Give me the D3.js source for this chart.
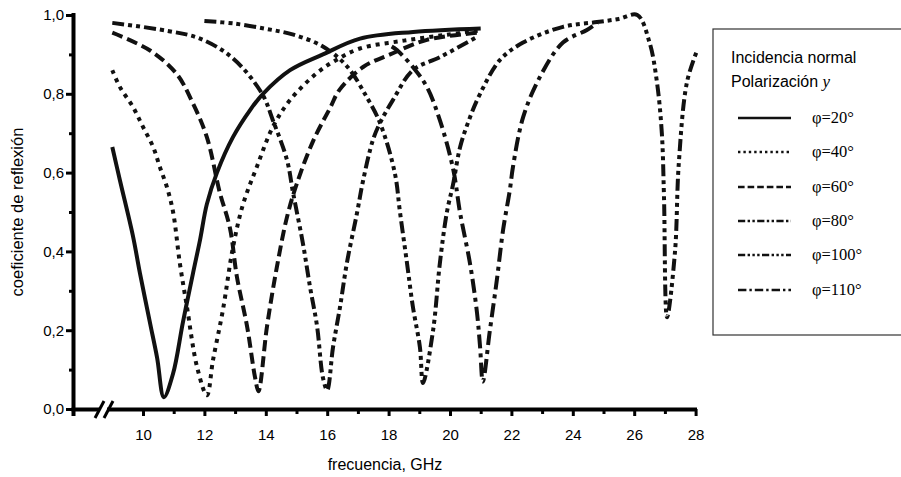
<!DOCTYPE html>
<html>
<head>
<meta charset="utf-8">
<script src="https://cdn.jsdelivr.net/npm/d3@7"></script>
<style>
  body { margin: 0; background: #fff; }
  text { font-family: "Liberation Sans", Arial, sans-serif; fill: #000; }
  .axis path { stroke: none; }
  .axis line { stroke: #000; stroke-width: 3px; }
  .axis text { fill: #000; font-size: 15px; font-family: "Liberation Sans", Arial, sans-serif; }
</style>
</head>
<body>
<script>
// Data (frequency in GHz, reflection coefficient)
var f20 = [9, 9.25, 9.67, 9.9, 10.23, 10.46, 10.68, 10.98, 11.3, 11.63, 11.86, 12.08, 12.41, 12.93, 13.5, 13.91, 14.79, 15.86, 17.07, 18.8, 21];
var r20 = [0.665, 0.58, 0.44, 0.345, 0.218, 0.13, 0.03, 0.09, 0.22, 0.345, 0.43, 0.52, 0.6, 0.69, 0.76, 0.80, 0.86, 0.9, 0.94, 0.957, 0.966];

var f40 = [9, 9.25, 9.67, 10, 10.33, 10.55, 10.78, 10.98, 11.2, 11.43, 11.76, 12.08, 12.28, 12.6, 12.93, 13.26, 13.71, 14.23, 14.79, 15.67, 16.3, 17.07, 18.5, 19.9, 20.9];
var r40 = [0.86, 0.817, 0.767, 0.716, 0.665, 0.614, 0.563, 0.5, 0.37, 0.26, 0.107, 0.035, 0.124, 0.25, 0.41, 0.52, 0.615, 0.716, 0.784, 0.853, 0.886, 0.915, 0.935, 0.95, 0.96];

var f60 = [9, 10.23, 11.1, 11.6, 12.08, 12.5, 12.83, 13.06, 13.39, 13.65, 13.76, 14.04, 14.36, 14.69, 15.02, 15.54, 16.1, 16.4, 17.17, 18.05, 19.25, 20.9];
var r60 = [0.955, 0.91, 0.85, 0.78, 0.69, 0.55, 0.46, 0.335, 0.21, 0.08, 0.045, 0.21, 0.36, 0.487, 0.574, 0.68, 0.765, 0.81, 0.868, 0.90, 0.937, 0.955];

var f80 = [9, 10.78, 11.86, 12.93, 13.88, 14.23, 14.69, 14.89, 15.21, 15.44, 15.67, 15.86, 16.0, 16.19, 16.42, 16.64, 16.97, 17.17, 17.49, 17.72, 18.14, 18.79, 19.67, 20.9];
var r80 = [0.98, 0.96, 0.94, 0.89, 0.80, 0.733, 0.632, 0.548, 0.42, 0.31, 0.21, 0.08, 0.048, 0.157, 0.26, 0.37, 0.497, 0.58, 0.683, 0.726, 0.784, 0.86, 0.893, 0.945];

var f100 = [12, 13, 14, 14.9, 15.86, 16.64, 17.3, 17.72, 18.2, 18.37, 18.6, 18.79, 19.02, 19.12, 19.45, 19.67, 19.9, 20.1, 20.33, 20.65, 20.98, 21.63, 22.38, 23.68, 24.79, 25.5, 26.1, 26.5, 26.74, 26.9, 26.97, 27.07, 27.33, 27.45, 27.72, 28.05];
var r100 = [0.985, 0.978, 0.965, 0.95, 0.92, 0.87, 0.79, 0.726, 0.6, 0.50, 0.37, 0.26, 0.157, 0.066, 0.2, 0.37, 0.5, 0.57, 0.665, 0.74, 0.80, 0.886, 0.93, 0.97, 0.982, 0.99, 1.0, 0.93, 0.83, 0.70, 0.54, 0.233, 0.40, 0.62, 0.83, 0.91];

var f110 = [18.1, 18.27, 18.79, 19.25, 19.67, 20.1, 20.33, 20.65, 20.88, 20.98, 21.07, 21.3, 21.53, 21.73, 21.95, 22.05, 22.38, 22.93, 23.68, 24.46, 24.8];
var r110 = [0.92, 0.911, 0.868, 0.817, 0.733, 0.61, 0.497, 0.37, 0.244, 0.157, 0.07, 0.2, 0.33, 0.455, 0.556, 0.614, 0.74, 0.843, 0.93, 0.962, 0.98];

var seriesNames = ["\u03c6=20\u00b0", "\u03c6=40\u00b0", "\u03c6=60\u00b0", "\u03c6=80\u00b0", "\u03c6=100\u00b0", "\u03c6=110\u00b0"];
var xTicks = [10, 11, 12, 13, 14, 15, 16, 17, 18, 19, 20, 21, 22, 23, 24, 25, 26, 27, 28];
var yTicks = [0, 0.1, 0.2, 0.3, 0.4, 0.5, 0.6, 0.7, 0.8, 0.9, 1.0];

var series = [
  { name: seriesNames[0], f: f20, r: r20, dash: null },
  { name: seriesNames[1], f: f40, r: r40, dash: "4,5" },
  { name: seriesNames[2], f: f60, r: r60, dash: "11,5" },
  { name: seriesNames[3], f: f80, r: r80, dash: "12,4,4,4,4,4" },
  { name: seriesNames[4], f: f100, r: r100, dash: "12,4,4,4,4,4,4,4" },
  { name: seriesNames[5], f: f110, r: r110, dash: "14,5,4,5" }
];

//Generate SVG
var width = 901,
  height = 477;

var svg = d3.select('body')
  .append('svg')
  .attr('width', width)
  .attr('height', height)
  .style('background', '#fff');

// Define Scales
var xScale = d3.scaleLinear()
  .domain([7.72, 28])
  .range([73, 695.6]);

var yScale = d3.scaleLinear()
  .domain([0, 1])
  .range([409, 15]);

//Draw Axes
var xAxis = svg.append('g')
  .attr("class", "axis")
  .attr("transform", "translate(0,409)")
  .call(d3.axisBottom(xScale)
    .tickValues(xTicks)
    .tickSize(7)
    .tickSizeOuter(0)
    .tickFormat(function(d) { return d % 2 == 0 ? d : ""; }));

var yAxis = svg.append('g')
  .attr("class", "axis")
  .attr("transform", "translate(73,0)")
  .call(d3.axisLeft(yScale)
    .tickValues(yTicks)
    .tickSize(7)
    .tickSizeOuter(0)
    .tickFormat(function(d) {
      return Math.round(d * 10) % 2 == 0 ? d3.format(".1f")(d).replace(".", ",") : "";
    }));

yAxis.selectAll('.tick line')
  .attr('x2', function(d) { return Math.round(d * 10) % 2 == 0 ? -7 : -4; });
xAxis.selectAll('.tick line')
  .attr('y2', function(d) { return d % 2 == 0 ? 7 : 5; });
xAxis.selectAll('.tick text').attr('y', 20);
yAxis.selectAll('.tick text').attr('x', -9);

// axis lines drawn as filled bars so they stay heavy
svg.append('rect')
  .attr('x', 71.5).attr('y', yScale(1) - 2).attr('width', 4).attr('height', 409 - yScale(1) + 9)
  .attr('fill', '#000');
svg.append('rect')
  .attr('x', 71.5).attr('y', 407.5).attr('width', 697 - 71.5).attr('height', 4)
  .attr('fill', '#000');
// the axis break
svg.append('rect')
  .attr('x', xScale(8.6)).attr('y', 404).attr('width', 7).attr('height', 10)
  .attr('fill', '#fff');
svg.append('line')
  .attr('x1', xScale(8.6) - 5).attr('y1', 418).attr('x2', xScale(8.6) + 4).attr('y2', 401)
  .style('stroke', '#000').style('stroke-width', '3px');
svg.append('line')
  .attr('x1', xScale(8.6) + 4).attr('y1', 418).attr('x2', xScale(8.6) + 13).attr('y2', 401)
  .style('stroke', '#000').style('stroke-width', '3px');

// Axis titles
svg.append('text')
  .attr('x', 385).attr('y', 470)
  .attr('text-anchor', 'middle')
  .style('font-size', '16px')
  .text('frecuencia, GHz');

svg.append('text')
  .attr('transform', 'translate(23,212) rotate(-90)')
  .attr('text-anchor', 'middle')
  .style('font-size', '16.5px')
  .text('coeficiente de reflexión');

//Draw lines
var line = d3.line()
  .x(function(d) { return xScale(d[0]); })
  .y(function(d) { return yScale(d[1]); })
  .curve(d3.curveCatmullRom.alpha(0.5));

series.forEach(function(s) {
  var pts = s.f.map(function(f, i) { return [f, s.r[i]]; });
  svg.append('path')
    .datum(pts)
    .attr('d', line)
    .attr('fill', 'none')
    .attr('stroke', '#111')
    .attr('stroke-width', 4)
    .attr('stroke-dasharray', s.dash);
});

// Handmade legend
svg.append('rect')
  .attr('x', 713).attr('y', 29).attr('width', 200).attr('height', 306)
  .attr('fill', '#fff')
  .attr('stroke', '#333')
  .attr('stroke-width', 1.2);

svg.append('text').attr('x', 731).attr('y', 63).style('font-size', '16px').text('Incidencia normal');
var pol = svg.append('text').attr('x', 731).attr('y', 87).style('font-size', '16px');
pol.append('tspan').text('Polarización ');
pol.append('tspan')
  .style('font-family', '"Liberation Serif", "Times New Roman", serif')
  .style('font-style', 'italic')
  .style('font-size', '17px')
  .text('y');

var legendRows = [118, 152, 187, 221, 255, 290];
series.forEach(function(s, i) {
  svg.append('line')
    .attr('x1', 738).attr('x2', 791)
    .attr('y1', legendRows[i]).attr('y2', legendRows[i])
    .attr('stroke', '#111')
    .attr('stroke-width', 2.5)
    .attr('stroke-dasharray', s.dash ? s.dash.split(',').map(function(v) { return v * 0.6; }).join(',') : null);
  svg.append('text')
    .attr('x', 812).attr('y', legendRows[i] + 5)
    .style('font-family', '"Liberation Serif", "Times New Roman", serif')
    .style('font-size', '16.5px')
    .text(s.name);
});
</script>
</body>
</html>
